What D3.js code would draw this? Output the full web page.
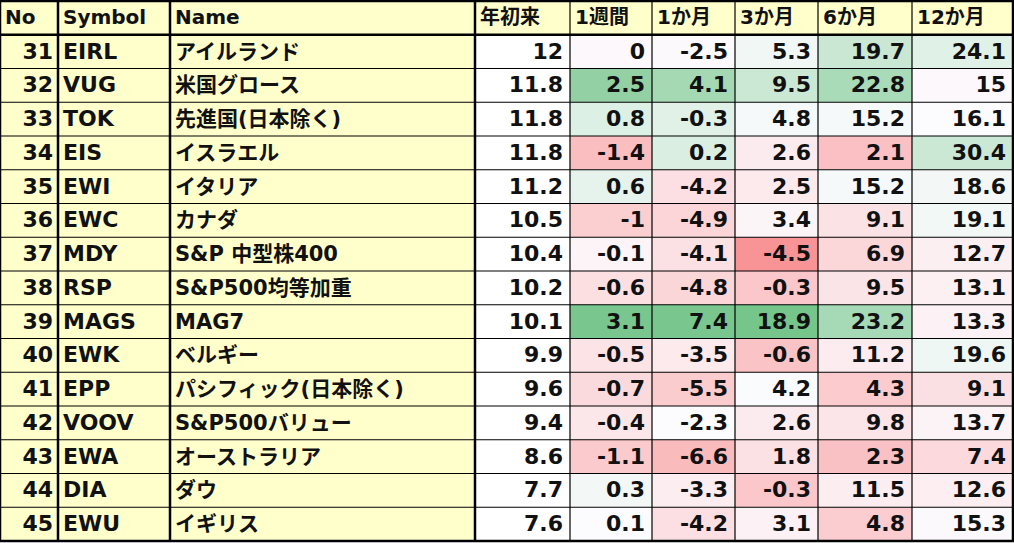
<!DOCTYPE html><html><head><meta charset="utf-8"><script src="https://cdn.jsdelivr.net/npm/d3@7"></script>
<style>body{margin:0;background:#fff}</style></head><body><svg id="c" width="1014" height="543"></svg>
<script>
const headers=["No","Symbol","Name","年初来","1週間","1か月","3か月","6か月","12か月"];
const nos=[31,32,33,34,35,36,37,38,39,40,41,42,43,44,45];
const symbols=["EIRL","VUG","TOK","EIS","EWI","EWC","MDY","RSP","MAGS","EWK","EPP","VOOV","EWA","DIA","EWU"];
const names=["アイルランド","米国グロース","先進国(日本除く)","イスラエル","イタリア","カナダ","S&P 中型株400","S&P500均等加重","MAG7","ベルギー","パシフィック(日本除く)","S&P500バリュー","オーストラリア","ダウ","イギリス"];
const ytd=[12,11.8,11.8,11.8,11.2,10.5,10.4,10.2,10.1,9.9,9.6,9.4,8.6,7.7,7.6];
const w1=[0,2.5,0.8,-1.4,0.6,-1,-0.1,-0.6,3.1,-0.5,-0.7,-0.4,-1.1,0.3,0.1];
const m1=[-2.5,4.1,-0.3,0.2,-4.2,-4.9,-4.1,-4.8,7.4,-3.5,-5.5,-2.3,-6.6,-3.3,-4.2];
const m3=[5.3,9.5,4.8,2.6,2.5,3.4,-4.5,-0.3,18.9,-0.6,4.2,2.6,1.8,-0.3,3.1];
const m6=[19.7,22.8,15.2,2.1,15.2,9.1,6.9,9.5,23.2,11.2,4.3,9.8,2.3,11.5,4.8];
const m12=[24.1,15,16.1,30.4,18.6,19.1,12.7,13.1,13.3,19.6,9.1,13.7,7.4,12.6,15.3];
// colour-scale domains [low, mid, high] per numeric column (null = no scale)
const domains=[null,[-3.4,0.1,3.6],[-12,-2.3,9],[-8,4,21],[-16,14.5,30],[-20,16,60]];
const cols=[ytd,w1,m1,m3,m6,m12];
const xs=[0,58,170,475,570,652,735,818,912,1013];
const svg=d3.select("#c");
const y=d3.scaleBand().domain(d3.range(16)).range([1,541]);
const font="'DejaVu Sans','Noto Sans CJK JP',sans-serif";
const yellow="#FFFFCC";
for(let r=0;r<16;r++){
  for(let c=0;c<9;c++){
    let fill="#fff";
    if(r==0||c<3) fill=yellow;
    else{const d=domains[c-3];if(d){fill=d3.scaleLinear().domain(d).range(["#F8696B","#FCFCFF","#63BE7B"]).clamp(true)(cols[c-3][r-1]);}}
    svg.append("rect").attr("x",xs[c]).attr("y",y(r)).attr("width",xs[c+1]-xs[c]).attr("height",y.bandwidth()).attr("fill",fill);
    let txt,anchor="start",tx=xs[c]+5;
    if(r==0){txt=headers[c];}
    else if(c==0){txt=nos[r-1];anchor="end";tx=xs[1]-5;}
    else if(c==1)txt=symbols[r-1];
    else if(c==2)txt=names[r-1];
    else {txt=cols[c-3][r-1];anchor="end";tx=xs[c+1]-7;}
    svg.append("text").attr("x",tx).attr("y",y(r)+y.bandwidth()/2+1).attr("dominant-baseline","middle")
      .attr("text-anchor",anchor).attr("font-family",font).attr("font-weight","bold")
      .attr("font-size",r==0?20:(c==2?21:22)).attr("fill","#111").text(txt);
  }
}
// grid
for(let r=0;r<=16;r++){const yy=r==16?541:y(r);svg.append("line").attr("x1",0).attr("x2",1014).attr("y1",yy).attr("y2",yy).attr("stroke","#000").attr("stroke-width",(r==0||r==1||r==16)?2.5:1.2);}
xs.forEach((x,i)=>svg.append("line").attr("x1",x).attr("x2",x).attr("y1",0).attr("y2",541).attr("stroke","#000").attr("stroke-width",(i<=3||i==9)?2.5:1.2));
</script></body></html>
